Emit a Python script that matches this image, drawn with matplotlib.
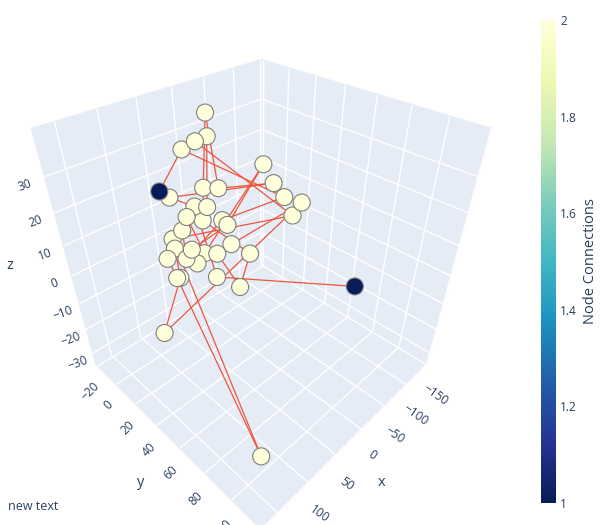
import matplotlib
matplotlib.use('Agg')
import matplotlib.pyplot as plt
from matplotlib.cm import ScalarMappable
from matplotlib.colors import Normalize

node_x = [-19, -8, 5, 19, -42, 68, 55, 21, 9, -41, -43, -54, -41, 38, 28, 51, 38, 21, 19,
          61, 73, 76, 63, 53, 43, 26, 15, 88, 72, 65, 55, 90, 87, 41, 128, 143, -57]
node_y = [-6, 0, -3, -7, 27, 0, 0, 10, 16, 35, 42, 50, 49, 11, 16, 11, 17, 24, 27,
          12, 10, 13, 20, 25, 30, 33, 42, 13, 20, 25, 35, 21, 22, 46, 28, 106, 88]
node_z = [36, 31, 30, 28, 25, 21, 18, 20, 20, 21, 18, 17, 14, 16, 16, 14, 13, 13, 12,
          11, 9, 7, 7, 6, 6, 8, 6, 5, 5, 4, 1, 1, 1, -1, -11, -21, -1]

edges = [(5, 3), (3, 10), (10, 17), (17, 28), (28, 19), (19, 14), (14, 1), (1, 2), (2, 12),
         (12, 20), (20, 35), (35, 31), (31, 27), (27, 15), (15, 23), (23, 4), (4, 18), (18, 22),
         (22, 29), (29, 25), (25, 11), (11, 34), (34, 32), (32, 21), (21, 24), (24, 33), (33, 26),
         (26, 16), (16, 7), (7, 0), (0, 8), (8, 9), (9, 6), (6, 13), (13, 30), (30, 36)]

cbar_ticks = [1, 1.2, 1.4, 1.6, 1.8, 2]
cbar_labels = ['1', '1.2', '1.4', '1.6', '1.8', '2']

# number of connections per node
connections = [0] * len(node_x)
for a, b in edges:
    connections[a] += 1
    connections[b] += 1

plt.rcParams['font.family'] = ['Open Sans', 'DejaVu Sans']
TXT = '#2a3f5f'
W, H = 613, 525
fig = plt.figure(figsize=(W / 100, H / 100), dpi=100)

S = 467
cx, cy = 255, 272
ax = fig.add_axes([(cx - S / 2) / W, 1 - (cy + S / 2) / H, S / W, S / H], projection='3d')
ax.view_init(elev=37.3, azim=45)
ax.set_proj_type('persp', focal_length=0.212)
ax.set_box_aspect((1, 1, 1.06))
ax.set_xlim(-151, 175)
ax.set_ylim(-22, 120)
ax.set_zlim(-35, 42)
ax.set_xticks([-150, -100, -50, 0, 50, 100, 150])
ax.set_yticks([-20, 0, 20, 40, 60, 80, 100, 120])
ax.set_zticks([-30, -20, -10, 0, 10, 20, 30])
for axis in (ax.xaxis, ax.yaxis, ax.zaxis):
    axis.set_pane_color('#E5ECF6')
    axis.pane.set_edgecolor('#E5ECF6')
    axis._axinfo['grid'].update(color='white', linewidth=1.0)
    axis._axinfo['tick'].update(inward_factor=0, outward_factor=0)
    axis.line.set_color((1, 1, 1, 0))
ax.tick_params(axis='x', labelsize=8.6, labelcolor=TXT, pad=2, labelrotation=-35)
ax.tick_params(axis='y', labelsize=8.6, labelcolor=TXT, pad=0, labelrotation=45)
ax.tick_params(axis='z', labelsize=8.6, labelcolor=TXT, pad=0, labelrotation=20)
ax.set_xlabel('x', fontsize=10.5, color=TXT)
ax.set_ylabel('y', fontsize=10.5, color=TXT)
ax.set_zlabel('z', fontsize=10.5, color=TXT, labelpad=6)

ax.computed_zorder = False
for a, b in edges:
    ax.plot([node_x[a], node_x[b]], [node_y[a], node_y[b]], [node_z[a], node_z[b]],
            color='#ef553b', lw=0.9, zorder=1)
ax.scatter(node_x, node_y, node_z, s=150, c=connections, cmap='YlGnBu_r', vmin=1, vmax=2,
           edgecolors='#7f7f7f', linewidths=0.8, depthshade=False, zorder=2)

cax = fig.add_axes([541 / W, 22 / H, 15 / W, 483 / H])
cb = fig.colorbar(ScalarMappable(Normalize(1, 2), 'YlGnBu_r'), cax=cax, ticks=cbar_ticks)
cb.ax.set_yticklabels(cbar_labels)
cb.outline.set_visible(False)
cb.ax.tick_params(length=0, labelsize=8.6, labelcolor=TXT, pad=3)
cb.set_label('Node Connections', fontsize=10.5, color=TXT, labelpad=4)

fig.text(8 / W, 1 - 507 / H, 'new text', fontsize=9, color=TXT, va='center')
fig.savefig('out.png')
